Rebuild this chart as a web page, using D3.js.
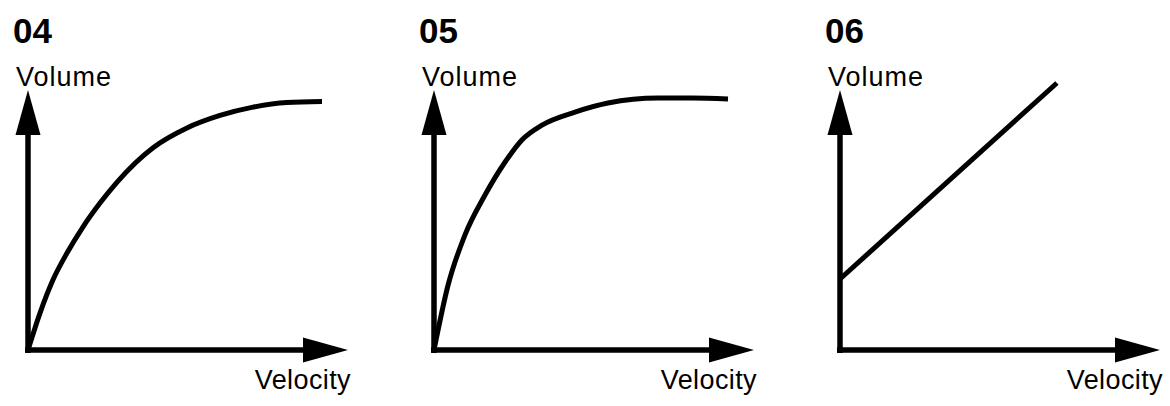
<!DOCTYPE html>
<html>
<head>
<meta charset="utf-8">
<script src="https://cdn.jsdelivr.net/npm/d3@7"></script>
<style>
  body { margin: 0; background: #fff; }
  text { font-family: "Liberation Sans", Arial, Helvetica, sans-serif; fill: #000; }
</style>
</head>
<body>
<div id="chart"></div>
<script>
// panel titles + axis labels
var titles = ["04", "05", "06"];
var yLabel = "Volume";
var xLabel = "Velocity";

// curves: [velocity, volume] on a 0..100 scale
var curve04 = [[0, 0], [4, 14.2], [8.3, 26.9], [13, 37.3], [18.3, 47.3], [24, 56.5], [29.7, 64.6],
    [41.7, 77.8], [53, 85.4], [64, 90.2], [75, 93.4], [86.3, 95.2], [98, 95.6]];
var curve05 = [[0, 0], [4.7, 25], [10.3, 44.2], [17, 59.6], [23.7, 72.3], [29.3, 80.8],
    [36, 86.5], [47, 91.5], [58, 95], [74.7, 96.9], [86, 96.9], [98, 96.5]];
var curve06 = [[0, 27.3], [72.3, 102.7]];

var curves = [curve04, curve05, curve06];

var width = 1170, height = 406;
var panelStep = 406;
var originX = 28, originY = 350;

var svg = d3.select("#chart").append("svg")
    .attr("width", width)
    .attr("height", height);

var x = d3.scaleLinear().domain([0, 100]).range([0, 300]);
var y = d3.scaleLinear().domain([0, 100]).range([0, -260]);

var line = d3.line()
    .x(function(d) { return x(d[0]); })
    .y(function(d) { return y(d[1]); })
    .curve(d3.curveMonotoneX);

titles.forEach(function(t, i) {
    var g = svg.append("g")
        .attr("transform", "translate(" + (originX + i * panelStep) + "," + originY + ")");

    var tipX = x(100) + 20;   // horizontal arrow tip
    var tipY = y(100);        // vertical arrow tip
    var headLen = 45, headHalf = 12.5;

    // axes
    g.append("line")
        .attr("x1", 0).attr("y1", 3)
        .attr("x2", 0).attr("y2", tipY + headLen - 1)
        .attr("stroke", "#000").attr("stroke-width", 5.5);
    g.append("line")
        .attr("x1", -3).attr("y1", 0)
        .attr("x2", tipX - headLen + 1).attr("y2", 0)
        .attr("stroke", "#000").attr("stroke-width", 5.5);

    // arrow heads
    g.append("path")
        .attr("d", "M0," + tipY + "L" + headHalf + "," + (tipY + headLen) + "L" + (-headHalf) + "," + (tipY + headLen) + "Z")
        .attr("fill", "#000");
    g.append("path")
        .attr("d", "M" + tipX + ",0L" + (tipX - headLen) + "," + (-headHalf) + "L" + (tipX - headLen) + "," + headHalf + "Z")
        .attr("fill", "#000");

    // the curve
    g.append("path")
        .datum(curves[i])
        .attr("d", line)
        .attr("fill", "none")
        .attr("stroke", "#000")
        .attr("stroke-width", 5)
        .attr("stroke-linecap", "butt");

    // labels
    g.append("text")
        .attr("x", -15).attr("y", 43 - originY)
        .attr("font-size", 35)
        .attr("font-weight", "bold")
        .text(t);

    g.append("text")
        .attr("x", -12).attr("y", 86 - originY)
        .attr("font-size", 27)
        .attr("letter-spacing", 1)
        .text(yLabel);

    g.append("text")
        .attr("x", tipX + 3).attr("y", 389 - originY)
        .attr("text-anchor", "end")
        .attr("font-size", 27)
        .attr("letter-spacing", 0.4)
        .text(xLabel);
});
</script>
</body>
</html>
